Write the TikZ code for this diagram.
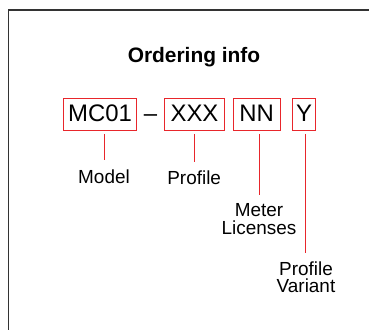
\documentclass[tikz,border=0pt]{standalone}
\usepackage{fontspec}
\setmainfont{Liberation Sans}
\definecolor{boxred}{HTML}{E8262B}
\definecolor{framegray}{HTML}{333333}
\begin{document}
\begin{tikzpicture}[x=1bp,y=-1bp,
  codebox/.style={draw=boxred, line width=1bp, minimum height=32bp, inner sep=0pt,
    font=\fontsize{24}{28}\selectfont, text height=17bp, text depth=2bp},
  lbl/.style={font=\fontsize{19}{18}\selectfont, align=center, inner sep=0pt},
  lead/.style={draw=boxred, line width=1bp}]
\useasboundingbox (0,0) rectangle (369,330);
\clip (0,0) rectangle (369,330);
\draw[framegray, line width=1.3bp] (8.5,10) rectangle (400,360);
\node[font=\bfseries\fontsize{21}{25}\selectfont, anchor=base, inner sep=0pt] (title) at (194,62.3) {Ordering info};
\node[codebox, minimum width=72bp] (model) at (100,114.25) {MC01};
\node[font=\fontsize{24}{28}\selectfont, anchor=base, inner sep=0pt] (dash) at (150.5,121.7) {–};
\node[codebox, minimum width=59bp] (profile) at (194.5,114.25) {XXX};
\node[codebox, minimum width=47bp] (meter) at (256.7,114.25) {NN};
\node[codebox, minimum width=23bp] (variant) at (304,114.25) {Y};
\node[lbl, anchor=base] (modlbl) at (104,183) {Model};
\node[lbl, anchor=base] (proflbl) at (194.2,184) {Profile};
\node[lbl, anchor=north] (meterlbl) at (259,203.1) {Meter\\Licenses};
\node[lbl, anchor=north] (varlbl) at (306,261.1) {Profile\\Variant};
\draw[lead] ([yshift=-3bp]model.south -| modlbl.north) -- ([yshift=9bp]modlbl.north);
\draw[lead] ([yshift=-3bp]profile.south -| proflbl.north) -- ([yshift=8bp]proflbl.north);
\draw[lead] ([yshift=-3bp]meter.south -| meterlbl.north) -- ([yshift=8bp]meterlbl.north);
\draw[lead] ([yshift=-3bp]variant.south -| 305,0) -- ([xshift=-1bp,yshift=8bp]varlbl.north);
\end{tikzpicture}
\end{document}
